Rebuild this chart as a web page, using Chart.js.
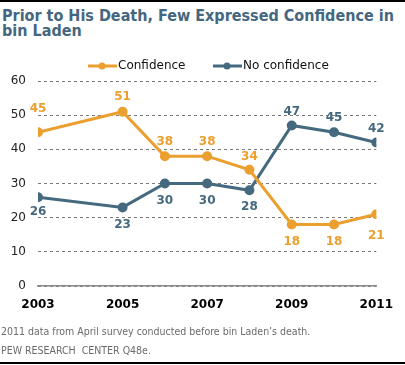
<!DOCTYPE html>
<html>
<head>
<meta charset="utf-8">
<script src="https://cdn.jsdelivr.net/npm/chart.js@4"></script>
<style>
  html, body { margin: 0; padding: 0; background: #fff; }
  #wrap { position: relative; width: 405px; height: 365px; overflow: hidden; font-family: "DejaVu Sans", Verdana, sans-serif; }
  #topline { position: absolute; left: 0; top: 0; width: 405px; height: 2px; background: #000; }
  #bottomline { position: absolute; left: 0; top: 362px; width: 405px; height: 2px; background: #000; }
  #title { position: absolute; left: 2px; top: 8px; white-space: nowrap; font-family: "DejaVu Sans Condensed", "DejaVu Sans", sans-serif; font-weight: bold; font-size: 16px; line-height: 15px; color: #44677f; }
  .note { position: absolute; left: 1px; font-family: "DejaVu Sans Condensed", "DejaVu Sans", sans-serif; font-size: 10.5px; color: #6b6b6b; white-space: nowrap; }
  canvas { position: absolute; left: 0; top: 0; }
</style>
</head>
<body>
<div id="wrap">
  <div id="topline"></div>
  <div id="title">Prior to His Death, Few Expressed Confidence in<br>bin Laden</div>
  <canvas id="chart" width="405" height="365"></canvas>
  <div class="note" style="top:325px">2011 data from April survey conducted before bin Laden’s death.</div>
  <div class="note" style="top:344px">PEW RESEARCH&nbsp; CENTER Q48e.</div>
  <div id="bottomline"></div>
</div>
<script>
const years = [2003, 2005, 2006, 2007, 2008, 2009, 2010, 2011];
const confidence = [45, 51, 38, 38, 34, 18, 18, 21];
const noConfidence = [26, 23, 30, 30, 28, 47, 45, 42];

const orange = '#eb9f2f';
const blue = '#45697f';

// label offsets in px from each point (negative = above)
const labelOffsets = [
  [-23, -15, -14, -14, -13, 17, 17, 22],
  [15, 17, 17, 17, 17, -14, -14, -14]
];

const pointLabels = {
  id: 'pointLabels',
  afterDatasetsDraw(chart) {
    const ctx = chart.ctx;
    ctx.save();
    ctx.font = 'bold 12px "DejaVu Sans", Verdana, sans-serif';
    ctx.textAlign = 'center';
    ctx.textBaseline = 'middle';
    chart.data.datasets.forEach((ds, i) => {
      ctx.fillStyle = ds.borderColor;
      chart.getDatasetMeta(i).data.forEach((pt, j) => {
        ctx.fillText(String(ds.data[j].y), pt.x, pt.y + labelOffsets[i][j]);
      });
    });
    ctx.restore();
  }
};

const legendLine = {
  id: 'legendLine',
  afterDraw(chart) {
    const ctx = chart.ctx;
    const spots = [88, 213];
    ctx.save();
    ctx.font = '12px "DejaVu Sans", Verdana, sans-serif';
    ctx.textBaseline = 'middle';
    chart.data.datasets.forEach((ds, i) => {
      const x = spots[i], y = 66;
      ctx.strokeStyle = ds.borderColor;
      ctx.lineWidth = 3;
      ctx.beginPath();
      ctx.moveTo(x, y);
      ctx.lineTo(x + 29, y);
      ctx.stroke();
      ctx.fillStyle = ds.borderColor;
      ctx.beginPath();
      ctx.arc(x + 14, y, 3.5, 0, Math.PI * 2);
      ctx.fill();
      ctx.fillStyle = '#111';
      ctx.fillText(ds.label, x + 30, y);
    });
    ctx.restore();
  }
};

function series(vals) {
  return vals.map((v, i) => ({ x: years[i], y: v }));
}

new Chart(document.getElementById('chart'), {
  type: 'line',
  data: {
    datasets: [
      {
        label: 'Confidence',
        data: series(confidence),
        borderColor: orange,
        backgroundColor: orange,
        borderWidth: 3,
        pointRadius: 3.5,
        pointHoverRadius: 3.5,
        tension: 0
      },
      {
        label: 'No confidence',
        data: series(noConfidence),
        borderColor: blue,
        backgroundColor: blue,
        borderWidth: 3,
        pointRadius: 3.5,
        pointHoverRadius: 3.5,
        tension: 0
      }
    ]
  },
  options: {
    responsive: false,
    animation: false,
    layout: { padding: { top: 81, right: 25, left: 0, bottom: 0 } },
    plugins: { legend: { display: false }, tooltip: { enabled: false } },
    scales: {
      x: {
        type: 'linear',
        min: 2003,
        max: 2011,
        afterFit(s) { s.height = 79; },
        grid: { display: false, drawTicks: false },
        border: { display: true, color: '#8a8a8a', width: 1.5 },
        ticks: {
          stepSize: 2,
          padding: 12,
          color: '#000',
          font: { family: '"DejaVu Sans", Verdana, sans-serif', size: 12, weight: 'bold' },
          callback: v => String(v)
        }
      },
      y: {
        min: 0,
        max: 60,
        afterFit(s) { s.width = 38; },
        grid: { color: '#7a7a7a', lineWidth: 1, drawTicks: false },
        border: { display: false, dash: [3, 3] },
        ticks: {
          stepSize: 10,
          padding: 12,
          color: '#222',
          font: { family: '"DejaVu Sans", Verdana, sans-serif', size: 12 }
        }
      }
    }
  },
  plugins: [pointLabels, legendLine]
});
</script>
</body>
</html>
